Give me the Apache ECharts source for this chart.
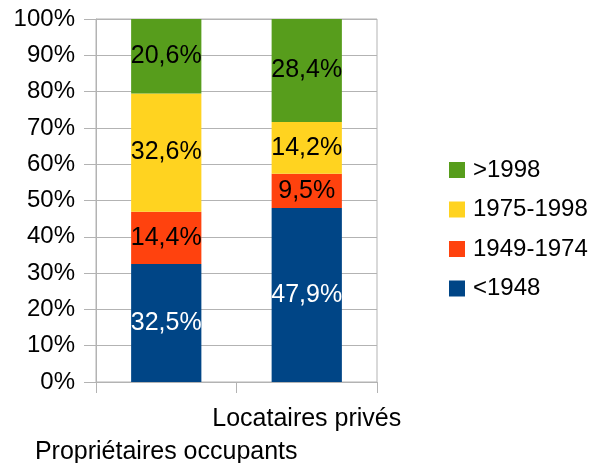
<!DOCTYPE html>
<html>
<head>
<meta charset="utf-8">
<script src="https://cdn.jsdelivr.net/npm/echarts@6/dist/echarts.min.js"></script>
<style>
  html, body { margin: 0; padding: 0; background: #fff; }
  #chart { width: 594px; height: 463px; }
</style>
</head>
<body>
<div id="chart"></div>
<script>
const categories = ['Propriétaires occupants', 'Locataires privés']
const seriesNames = ['<1948', '1949-1974', '1975-1998', '>1998']
const before1948 = [32.5, 47.9]
const from1949to1974 = [14.4, 9.5]
const from1975to1998 = [32.6, 14.2]
const after1998 = [20.6, 28.4]
const yTicks = [0, 10, 20, 30, 40, 50, 60, 70, 80, 90, 100]

const colors = ['#004586', '#ff420e', '#ffd320', '#579d1c']
const labelColors = ['#fff', '#000', '#000', '#000']
const font = 'Liberation Sans, Arial, sans-serif'
const gridColor = '#b3b3b3'

const chart = echarts.init(document.getElementById('chart'))

const values = [before1948, from1949to1974, from1975to1998, after1998]

chart.setOption({
  animation: false,
  textStyle: { fontFamily: font },
  grid: {
    left: 96, right: 217, top: 19, bottom: 81,
    outerBoundsMode: 'none',
    containLabel: false,
    show: true, borderColor: gridColor, borderWidth: 1, backgroundColor: 'transparent',
  },
  legend: {
    orient: 'vertical',
    left: 449,
    top: 158,
    padding: 0,
    itemWidth: 16,
    itemHeight: 16,
    itemGap: 15.5,
    icon: 'rect',
    data: seriesNames.slice().reverse(),
    textStyle: { fontSize: 24, lineHeight: 24, color: '#000', fontFamily: font, padding: [0, 0, 0, 3] },
  },
  xAxis: {
    type: 'category',
    data: categories,
    axisLine: { lineStyle: { color: gridColor } },
    axisTick: { show: true, length: 11, lineStyle: { color: gridColor } },
    axisLabel: {
      interval: 0,
      margin: 21,
      fontSize: 25,
      lineHeight: 33,
      color: '#000',
      fontFamily: font,
      formatter: (v, i) => (i === 0 ? '\n' + v : v),
    },
    splitLine: { show: false },
  },
  yAxis: {
    type: 'value',
    min: yTicks[0],
    max: yTicks[yTicks.length - 1],
    interval: yTicks[1] - yTicks[0],
    axisLine: { show: true, lineStyle: { color: gridColor } },
    axisTick: { show: true, length: 12, lineStyle: { color: gridColor } },
    axisLabel: { fontSize: 24, color: '#000', margin: 21, fontFamily: font, formatter: '{value}%' },
    splitLine: { lineStyle: { color: gridColor } },
  },
  series: seriesNames.map((name, i) => ({
    name,
    type: 'bar',
    stack: 'total',
    barWidth: '50%',
    data: values[i],
    itemStyle: { color: colors[i] },
    label: {
      show: true,
      position: 'inside',
      fontSize: 25,
      color: labelColors[i],
      fontFamily: font,
      textBorderWidth: 0,
      formatter: p => p.value.toFixed(1).replace('.', ',') + '%',
    },
  })),
})
</script>
</body>
</html>
